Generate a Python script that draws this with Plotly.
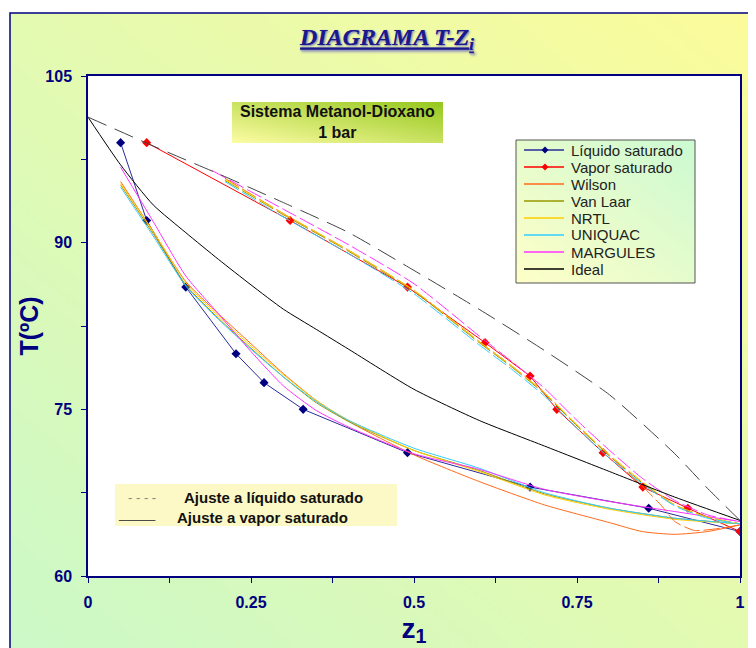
import base64
import struct
import zlib

import numpy as np
import plotly.graph_objects as go

# ---------------- data ----------------
x_liq = [0.05, 0.09, 0.15, 0.227, 0.27, 0.33, 0.49, 0.678, 0.86, 1.0]
T_liq = [99.0, 92.0, 86.0, 80.0, 77.4, 75.0, 71.1, 68.0, 66.1, 64.0]

x_vap = [0.09, 0.31, 0.49, 0.609, 0.678, 0.719, 0.79, 0.851, 0.92, 1.0]
T_vap = [99.0, 92.0, 86.0, 81.0, 78.0, 75.0, 71.1, 68.0, 66.1, 64.0]

# model fits, liquid branch
x_mod_liq = [0.05, 0.1, 0.15, 0.2, 0.25, 0.3, 0.35, 0.4, 0.5, 0.6, 0.7, 0.8, 0.9, 1.0]
T_vanlaar_liq = [95.2, 90.8, 86.2, 83.2, 80.5, 77.9, 75.6, 73.9, 71.3, 69.5, 67.4, 66.1, 65.2, 64.7]
T_nrtl_liq = [95.3, 91.0, 86.4, 83.4, 80.7, 78.1, 75.8, 74.0, 71.3, 69.4, 67.3, 66.0, 65.1, 64.7]
T_uniquac_liq = [95.0, 90.6, 86.1, 83.1, 80.4, 77.9, 75.7, 74.0, 71.5, 69.7, 67.5, 66.1, 65.2, 64.7]
T_margules_liq = [96.8, 91.9, 87.0, 83.6, 80.2, 77.1, 74.9, 73.4, 71.0, 69.6, 67.8, 66.7, 65.8, 64.9]
x_wilson_liq = [0.05, 0.1, 0.15, 0.2, 0.25, 0.3, 0.35, 0.4, 0.5, 0.6, 0.7, 0.8, 0.85, 0.9, 0.95, 1.0]
T_wilson_liq = [95.5, 91.0, 86.5, 83.6, 80.9, 78.2, 75.8, 73.9, 70.9, 68.5, 66.4, 64.8, 64.0, 63.75, 64.0, 64.6]

# model fits, vapour branch
x_mod_vap = [0.21, 0.3, 0.4, 0.5, 0.6, 0.65, 0.7, 0.75, 0.8, 0.85, 0.9, 0.95, 1.0]
T_vanlaar_vap = [95.6, 92.5, 89.2, 85.6, 81.0, 78.8, 76.4, 73.5, 70.8, 68.4, 66.4, 65.3, 64.7]
T_nrtl_vap = [95.7, 92.6, 89.3, 85.7, 81.1, 78.9, 76.5, 73.6, 70.9, 68.5, 66.4, 65.3, 64.7]
T_uniquac_vap = [95.5, 92.3, 89.0, 85.4, 80.8, 78.6, 76.2, 73.3, 70.6, 68.3, 66.3, 65.2, 64.7]
x_margules_vap = [0.19, 0.3, 0.4, 0.5, 0.6, 0.65, 0.7, 0.75, 0.8, 0.85, 0.9, 0.95, 1.0]
T_margules_vap = [96.5, 93.0, 89.8, 86.3, 81.6, 79.3, 76.9, 74.0, 71.3, 68.8, 66.8, 65.5, 64.9]
x_wilson_vap = [0.21, 0.3, 0.4, 0.5, 0.6, 0.65, 0.7, 0.75, 0.8, 0.85, 0.88, 0.9, 0.93, 0.97, 1.0]
T_wilson_vap = [95.8, 92.6, 89.3, 85.7, 81.1, 78.9, 76.5, 73.6, 70.8, 68.1, 66.3, 64.9, 64.1, 64.3, 64.6]

# ideal solution (Raoult)
x_ideal = [0.0, 0.05, 0.1, 0.15, 0.2, 0.25, 0.3, 0.35, 0.4, 0.5, 0.6, 0.7, 0.8, 0.9, 1.0]
T_ideal_liq = [101.3, 97.0, 93.4, 90.9, 88.5, 86.2, 84.0, 82.2, 80.4, 76.8, 74.0, 71.7, 69.4, 67.1, 65.0]
x_ideal_vap = [0.0, 0.1, 0.2, 0.3, 0.4, 0.5, 0.6, 0.7, 0.8, 0.9, 0.95, 1.0]
T_ideal_vap = [101.3, 98.7, 96.2, 93.6, 90.9, 87.5, 84.0, 80.3, 76.3, 71.0, 67.9, 65.0]

x_tickvals = [0, 0.25, 0.5, 0.75, 1]
x_ticktext = ["0", "0.25", "0.5", "0.75", "1"]
y_tickvals = [60, 75, 90, 105]
y_ticktext = ["60", "75", "90", "105"]

legend_names = ["Líquido saturado", "Vapor saturado", "Wilson", "Van Laar", "NRTL",
                "UNIQUAC", "MARGULES", "Ideal"]

# ---------------- geometry helpers (page pixels -> paper) ----------------
OFF = 8                      # page body margin in the browser
W, H = 748, 640
ML, MR, MT, MB = 80, 16, 68, 72
PW, PH = W - ML - MR, H - MT - MB


def px_x(px):
    return (px - OFF - ML) / PW


def px_y(py):
    return (H - MB - (py - OFF)) / PH


def png_uri(arr):
    h, w, _ = arr.shape
    raw = b"".join(b"\x00" + arr[i].tobytes() for i in range(h))

    def chunk(tag, data):
        c = struct.pack(">I", len(data)) + tag + data
        return c + struct.pack(">I", zlib.crc32(tag + data) & 0xFFFFFFFF)

    png = (b"\x89PNG\r\n\x1a\n"
           + chunk(b"IHDR", struct.pack(">IIBBBBB", w, h, 8, 2, 0, 0, 0))
           + chunk(b"IDAT", zlib.compress(raw, 9))
           + chunk(b"IEND", b""))
    return "data:image/png;base64," + base64.b64encode(png).decode()


def corner_gradient(c_a, c_b, n=128, a_at_top_right=True):
    u = np.linspace(0, 1, n)[None, :]
    v = np.linspace(0, 1, n)[:, None]
    if a_at_top_right:
        t = ((1 - u) + v) / 2.0
    else:
        t = (u + (1 - v)) / 2.0
    a = np.array(c_a, float)
    b = np.array(c_b, float)
    img = a[None, None, :] * (1 - t[..., None]) + b[None, None, :] * t[..., None]
    return np.clip(img, 0, 255).astype(np.uint8)


bg_img = png_uri(corner_gradient((252, 252, 155), (204, 249, 200)))
box_img = png_uri(corner_gradient((253, 253, 165), (150, 200, 30), a_at_top_right=False))
leg_img = png_uri(corner_gradient((204, 250, 210), (255, 255, 200)))

NAVY = "#000080"
COL = {
    "Líquido saturado": "#2b2b9a",
    "Vapor saturado": "#ff0000",
    "Wilson": "#ff6a1a",
    "Van Laar": "#999900",
    "NRTL": "#ffcc00",
    "UNIQUAC": "#33ccff",
    "MARGULES": "#ff33ff",
    "Ideal": "#000000",
}
MARKER_COL = {"Líquido saturado": NAVY, "Vapor saturado": "#ff0000"}

fig = go.Figure()

fig.add_trace(go.Scatter(x=x_liq, y=T_liq, mode="lines+markers", name="Líquido saturado",
                         line=dict(color=COL["Líquido saturado"], width=1),
                         marker=dict(symbol="diamond", size=7, color=NAVY)))
fig.add_trace(go.Scatter(x=x_vap, y=T_vap, mode="lines+markers", name="Vapor saturado",
                         line=dict(color="#ff0000", width=1),
                         marker=dict(symbol="diamond", size=7, color="#ff0000")))

models = [
    ("Wilson", x_wilson_liq, T_wilson_liq, x_wilson_vap, T_wilson_vap),
    ("Van Laar", x_mod_liq, T_vanlaar_liq, x_mod_vap, T_vanlaar_vap),
    ("NRTL", x_mod_liq, T_nrtl_liq, x_mod_vap, T_nrtl_vap),
    ("UNIQUAC", x_mod_liq, T_uniquac_liq, x_mod_vap, T_uniquac_vap),
    ("MARGULES", x_mod_liq, T_margules_liq, x_margules_vap, T_margules_vap),
]
for name, xl, tl, xv, tv in models:
    fig.add_trace(go.Scatter(x=xl, y=tl, mode="lines", name=name,
                             line=dict(color=COL[name], width=1, shape="spline", smoothing=0.6)))
for name, xl, tl, xv, tv in models:
    fig.add_trace(go.Scatter(x=xv, y=tv, mode="lines", name=name + " (vapor)",
                             line=dict(color=COL[name], width=1, dash="16px,4px",
                                       shape="spline", smoothing=0.6)))

fig.add_trace(go.Scatter(x=x_ideal, y=T_ideal_liq, mode="lines", name="Ideal",
                         line=dict(color="#000000", width=1, shape="spline", smoothing=0.6)))
fig.add_trace(go.Scatter(x=x_ideal_vap, y=T_ideal_vap, mode="lines", name="Ideal (vapor)",
                         line=dict(color="#444444", width=1, dash="20px,9px",
                                   shape="spline", smoothing=0.6)))
fig.update_traces(showlegend=False)

# ---------------- decoration ----------------
LEG_L, LEG_R, LEG_T, LEG_B = 516, 695, 140, 283
images = [
    dict(source=bg_img, xref="paper", yref="paper", x=px_x(10), y=px_y(13),
         sizex=(756 - 10) / PW, sizey=(648 - 13) / PH,
         xanchor="left", yanchor="top", sizing="stretch", layer="below"),
    dict(source=box_img, xref="paper", yref="paper", x=px_x(232), y=px_y(102),
         sizex=(443 - 232) / PW, sizey=(143 - 102) / PH,
         xanchor="left", yanchor="top", sizing="stretch", layer="above"),
    dict(source=leg_img, xref="paper", yref="paper", x=px_x(LEG_L), y=px_y(LEG_T),
         sizex=(LEG_R - LEG_L) / PW, sizey=(LEG_B - LEG_T) / PH,
         xanchor="left", yanchor="top", sizing="stretch", layer="above"),
]

shapes = [
    dict(type="rect", xref="x domain", yref="y domain", x0=0, x1=1, y0=0, y1=1,
         fillcolor="white", line=dict(width=0), layer="below"),
    dict(type="rect", xref="paper", yref="paper",
         x0=px_x(10), x1=px_x(800), y0=px_y(700), y1=px_y(13),
         line=dict(color=NAVY, width=1.5), fillcolor="rgba(0,0,0,0)", layer="below"),
    dict(type="rect", xref="paper", yref="paper",
         x0=px_x(115), x1=px_x(397), y0=px_y(526), y1=px_y(484),
         fillcolor="#fdf9c6", line=dict(width=0), layer="below"),
    dict(type="rect", xref="paper", yref="paper",
         x0=px_x(LEG_L), x1=px_x(LEG_R), y0=px_y(LEG_B), y1=px_y(LEG_T),
         fillcolor="rgba(0,0,0,0)", line=dict(color="#555555", width=1), layer="above"),
]

leg_font = dict(family="Arial, Liberation Sans", size=15, color="#222222")
annotations = []
for i, name in enumerate(legend_names):
    yc = 150 + 17 * i
    shapes.append(dict(type="line", xref="paper", yref="paper",
                       x0=px_x(524), x1=px_x(564), y0=px_y(yc), y1=px_y(yc),
                       line=dict(color=COL[name], width=1.5), layer="above"))
    if name in MARKER_COL:
        cx, cy = px_x(545), px_y(yc)
        dx, dy = 3.5 / PW, 3.5 / PH
        shapes.append(dict(type="path", xref="paper", yref="paper",
                           path=f"M {cx-dx},{cy} L {cx},{cy+dy} L {cx+dx},{cy} L {cx},{cy-dy} Z",
                           fillcolor=MARKER_COL[name], line=dict(width=0), layer="above"))
    annotations.append(dict(text=name, xref="paper", yref="paper", x=px_x(569), y=px_y(yc),
                            xanchor="left", yanchor="middle", showarrow=False, font=leg_font))

note_font = dict(family="Arial, Liberation Sans", size=15, color="#111111", weight="bold")
annotations += [
    dict(text="Sistema Metanol-Dioxano<br>1 bar", xref="paper", yref="paper",
         x=px_x(337.5), y=px_y(122.5), xanchor="center", yanchor="middle", showarrow=False,
         font=dict(family="Arial, Liberation Sans", size=16, color="#111111", weight="bold")),
    dict(text="- - - -", xref="paper", yref="paper", x=px_x(142), y=px_y(497),
         xanchor="center", yanchor="middle", showarrow=False,
         font=dict(family="Arial, Liberation Sans", size=13, color="#888888")),
    dict(text="Ajuste a líquido saturado", xref="paper", yref="paper",
         x=px_x(182), y=px_y(497), xanchor="left", yanchor="middle", showarrow=False,
         font=note_font),
    dict(text="_____", xref="paper", yref="paper", x=px_x(137), y=px_y(513),
         xanchor="center", yanchor="middle", showarrow=False,
         font=dict(family="Arial, Liberation Sans", size=13, color="#333333")),
    dict(text="Ajuste a vapor saturado", xref="paper", yref="paper",
         x=px_x(175), y=px_y(517), xanchor="left", yanchor="middle", showarrow=False,
         font=note_font),
]

axis_font = dict(family="Arial, Liberation Sans", size=16, color=NAVY, weight="bold")

fig.update_layout(
    width=W, height=H,
    margin=dict(l=ML, r=MR, t=MT, b=MB, autoexpand=False),
    paper_bgcolor="white",
    plot_bgcolor="rgba(0,0,0,0)",
    font=dict(family="Arial, Liberation Sans"),
    showlegend=False,
    title=dict(text="<u>DIAGRAMA T-Z<sub>i</sub></u>", x=(387 - OFF) / W, y=1 - (37 - OFF) / H,
               xanchor="center", yanchor="middle",
               font=dict(family="Liberation Serif, DejaVu Serif", size=24, color="#1a1a8c",
                         style="italic", weight="bold", shadow="1px 1px 2px #9999bb")),
    xaxis=dict(range=[0, 1], tickvals=x_tickvals, ticktext=x_ticktext, automargin=False,
               ticks="outside", ticklen=5, tickcolor=NAVY, tickwidth=1, ticklabelstandoff=6,
               minor=dict(dtick=0.125, ticks="outside", ticklen=5, tickcolor=NAVY, showgrid=False),
               showgrid=False, zeroline=False, showline=True, linecolor=NAVY, linewidth=1.5,
               mirror=True, tickfont=axis_font,
               title=dict(text="z<sub>1</sub>", standoff=8,
                          font=dict(family="Arial, Liberation Sans", size=28, color=NAVY,
                                    weight="bold"))),
    yaxis=dict(range=[60, 105], tickvals=y_tickvals, ticktext=y_ticktext, automargin=False,
               ticks="outside", ticklen=5, tickcolor=NAVY, tickwidth=1, ticklabelstandoff=6,
               minor=dict(dtick=7.5, ticks="outside", ticklen=5, tickcolor=NAVY, showgrid=False),
               showgrid=False, zeroline=False, showline=True, linecolor=NAVY, linewidth=1.5,
               mirror=True, tickfont=axis_font,
               title=dict(text="T(ºC)", standoff=0,
                          font=dict(family="Arial, Liberation Sans", size=25, color=NAVY,
                                    weight="bold"))),
    images=images,
    shapes=shapes,
    annotations=annotations,
)

fig.write_html("out.html")
